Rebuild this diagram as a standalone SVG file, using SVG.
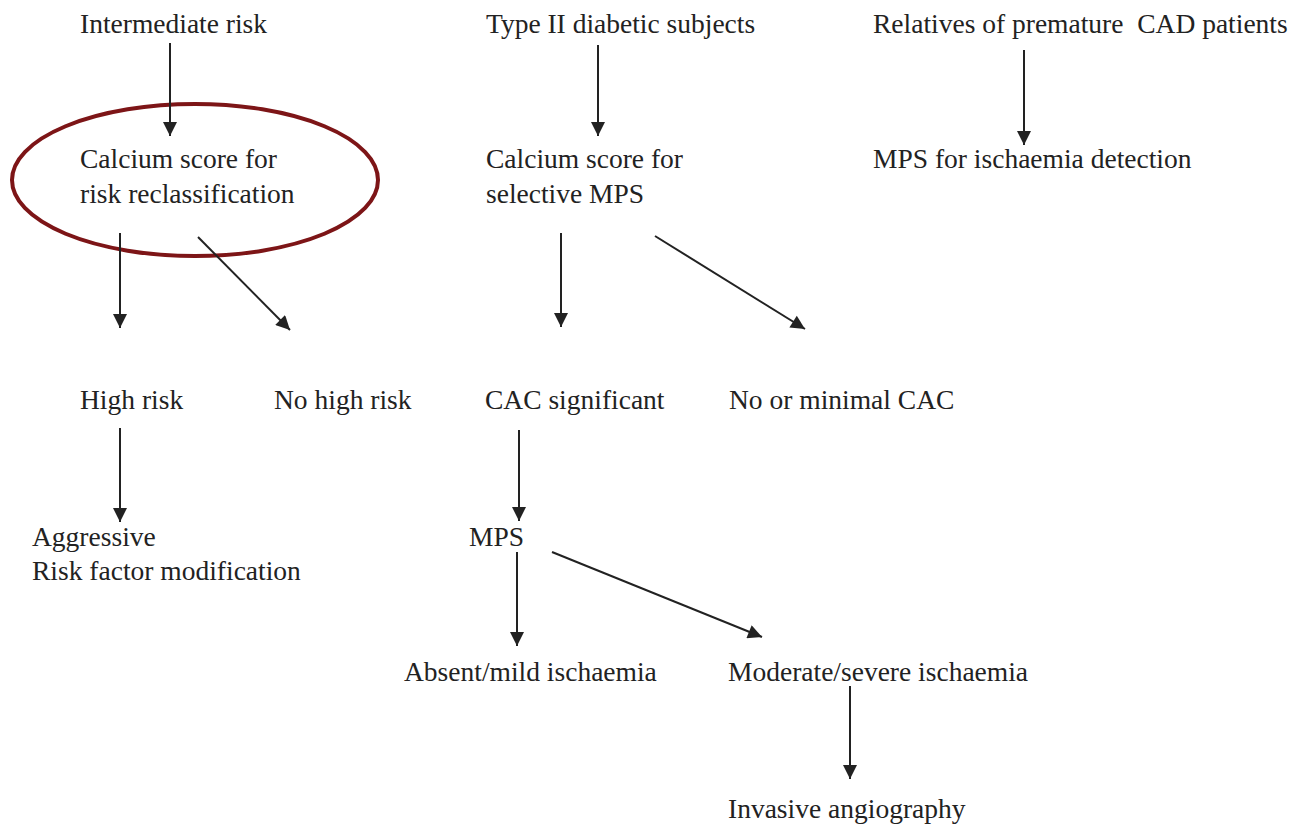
<svg xmlns="http://www.w3.org/2000/svg" width="1295" height="825" viewBox="0 0 1295 825">
<style>
text{font-family:"Liberation Serif","Times New Roman",serif;font-size:27.5px;fill:#222;white-space:pre}
.c line{stroke:#222;stroke-width:2;marker-end:url(#ah)}
</style>
<defs>
<marker id="ah" viewBox="0 0 10 10" refX="10" refY="5" markerWidth="7.5" markerHeight="7" markerUnits="strokeWidth" orient="auto">
<path d="M0,0 L10,5 L0,10 Z" fill="#222"/>
</marker>
</defs>
<rect width="1295" height="825" fill="#fff"/>
<g id="n-intermediate"><text x="80" y="33">Intermediate risk</text></g>
<g id="n-calcium-risk"><ellipse cx="195" cy="180" rx="183" ry="76" fill="none" stroke="#7d1517" stroke-width="4"/><text x="80" y="168">Calcium score for</text><text x="80" y="203">risk reclassification</text></g>
<g id="n-high"><text x="80" y="409">High risk</text></g>
<g id="n-nohigh"><text x="274" y="409">No high risk</text></g>
<g id="n-aggr"><text x="32" y="546">Aggressive</text><text x="32" y="580">Risk factor modification</text></g>
<g id="n-diabetic"><text x="486" y="33">Type II diabetic subjects</text></g>
<g id="n-calcium-mps"><text x="486" y="168">Calcium score for</text><text x="486" y="203">selective MPS</text></g>
<g id="n-cacsig"><text x="485" y="409">CAC significant</text></g>
<g id="n-nocac"><text x="729" y="409">No or minimal CAC</text></g>
<g id="n-mps"><text x="469" y="546">MPS</text></g>
<g id="n-absent"><text x="404" y="681">Absent/mild ischaemia</text></g>
<g id="n-moderate"><text x="728" y="681">Moderate/severe ischaemia</text></g>
<g id="n-invasive"><text x="728" y="818">Invasive angiography</text></g>
<g id="n-relatives"><text x="873" y="33">Relatives of premature  CAD patients</text></g>
<g id="n-mpsdet"><text x="873" y="168">MPS for ischaemia detection</text></g>
<g class="c" id="connectors">
<line x1="170" y1="43" x2="170" y2="136"/>
<line x1="120" y1="233" x2="120" y2="328"/>
<line x1="198" y1="237" x2="290" y2="330"/>
<line x1="120" y1="428" x2="120" y2="522"/>
<line x1="598" y1="45" x2="598" y2="136"/>
<line x1="1024" y1="50" x2="1024" y2="145"/>
<line x1="561" y1="233" x2="561" y2="327"/>
<line x1="655" y1="236" x2="805" y2="329"/>
<line x1="519" y1="430" x2="519" y2="521"/>
<line x1="517" y1="552" x2="517" y2="646"/>
<line x1="552" y1="552" x2="762" y2="637"/>
<line x1="850" y1="686" x2="850" y2="779"/>
</g>
</svg>
